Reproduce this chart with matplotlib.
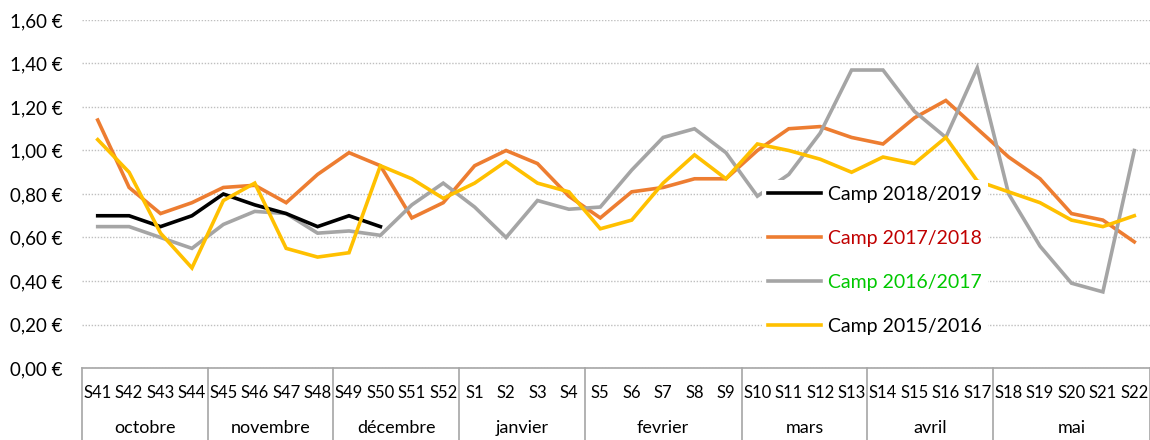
import matplotlib
matplotlib.use("Agg")
import matplotlib.pyplot as plt
import matplotlib.transforms as mtransforms

plt.rcParams["font.family"] = ["Lato", "DejaVu Sans"]

weeks = ["S41", "S42", "S43", "S44", "S45", "S46", "S47", "S48", "S49", "S50",
         "S51", "S52", "S1", "S2", "S3", "S4", "S5", "S6", "S7", "S8", "S9",
         "S10", "S11", "S12", "S13", "S14", "S15", "S16", "S17", "S18", "S19",
         "S20", "S21", "S22"]
months = ["octobre", "novembre", "décembre", "janvier", "fevrier", "mars", "avril", "mai"]
month_weeks = [4, 4, 4, 4, 5, 4, 4, 5]

camp_2018_2019 = [0.70, 0.70, 0.65, 0.70, 0.80, 0.75, 0.71, 0.65, 0.70, 0.65]
camp_2017_2018 = [1.14, 0.83, 0.71, 0.76, 0.83, 0.84, 0.76, 0.89, 0.99, 0.93,
                  0.69, 0.76, 0.93, 1.00, 0.94, 0.79, 0.69, 0.81, 0.83, 0.87,
                  0.87, 1.00, 1.10, 1.11, 1.06, 1.03, 1.15, 1.23, 1.10, 0.97,
                  0.87, 0.71, 0.68, 0.58]
camp_2016_2017 = [0.65, 0.65, 0.60, 0.55, 0.66, 0.72, 0.71, 0.62, 0.63, 0.61,
                  0.75, 0.85, 0.74, 0.60, 0.77, 0.73, 0.74, 0.91, 1.06, 1.10,
                  0.99, 0.79, 0.89, 1.08, 1.37, 1.37, 1.18, 1.06, 1.38, 0.80,
                  0.56, 0.39, 0.35, 1.00]
camp_2015_2016 = [1.05, 0.90, 0.62, 0.46, 0.77, 0.85, 0.55, 0.51, 0.53, 0.93,
                  0.87, 0.78, 0.85, 0.95, 0.85, 0.81, 0.64, 0.68, 0.85, 0.98,
                  0.87, 1.03, 1.00, 0.96, 0.90, 0.97, 0.94, 1.06, 0.86, 0.81,
                  0.76, 0.68, 0.65, 0.70]

series = [
    ("Camp 2018/2019", camp_2018_2019, "#000000", "#000000", 4),
    ("Camp 2017/2018", camp_2017_2018, "#ED7D31", "#C00000", 2),
    ("Camp 2016/2017", camp_2016_2017, "#A5A5A5", "#00C800", 3),
    ("Camp 2015/2016", camp_2015_2016, "#FFC000", "#000000", 5),
]

fig = plt.figure(figsize=(11.5, 4.4), dpi=100)
ax = fig.add_axes([82 / 1150, 72 / 440, 1068 / 1150, 348 / 440])

for label, values, color, _, z in series:
    ax.plot(range(len(values)), values, color=color, lw=2.6, label=label,
            zorder=z, solid_joinstyle="miter")

ax.set_xlim(-0.5, len(weeks) - 0.5)
ax.set_ylim(0, 1.6)
ax.set_yticks([i * 0.2 for i in range(9)])
ax.set_yticklabels([f"{i * 0.2:.2f} €".replace(".", ",") for i in range(9)])
ax.tick_params(axis="y", length=0, pad=14, labelsize=13.5)
ax.set_xticks(range(len(weeks)))
ax.set_xticklabels(weeks)
ax.tick_params(axis="x", length=0, pad=12, labelsize=12)

ax.grid(axis="y", ls=(0, (1, 1.2)), color="#BFBFBF", lw=1)
for s in ["top", "right", "left"]:
    ax.spines[s].set_visible(False)
ax.spines["bottom"].set_color("#A6A6A6")
ax.spines["bottom"].set_linewidth(1.2)

# category axis: month groups and dividers
trans = mtransforms.blended_transform_factory(ax.transData, ax.transAxes)
start = 0
edges = [-0.5]
for name, n in zip(months, month_weeks):
    ax.text(start + (n - 1) / 2, -60 / 348, name, transform=trans,
            ha="center", va="center", fontsize=13)
    start += n
    edges.append(start - 0.5)
for e in edges:
    ax.plot([e, e], [0, -0.3], transform=trans, color="#A6A6A6", lw=1.2,
            clip_on=False)

leg = ax.legend(loc="center left", bbox_to_anchor=(0.637, 0.066, 0.21, 0.486),
                frameon=True, facecolor="white", edgecolor="none", framealpha=1,
                fontsize=14, handlelength=2.7, handletextpad=0.4,
                labelspacing=1.38, borderpad=0.3, borderaxespad=0, fancybox=False)
leg.set_zorder(10)
for txt, (_, _, _, tcolor, _) in zip(leg.get_texts(), series):
    txt.set_color(tcolor)

fig.savefig("out.png", dpi=100)
